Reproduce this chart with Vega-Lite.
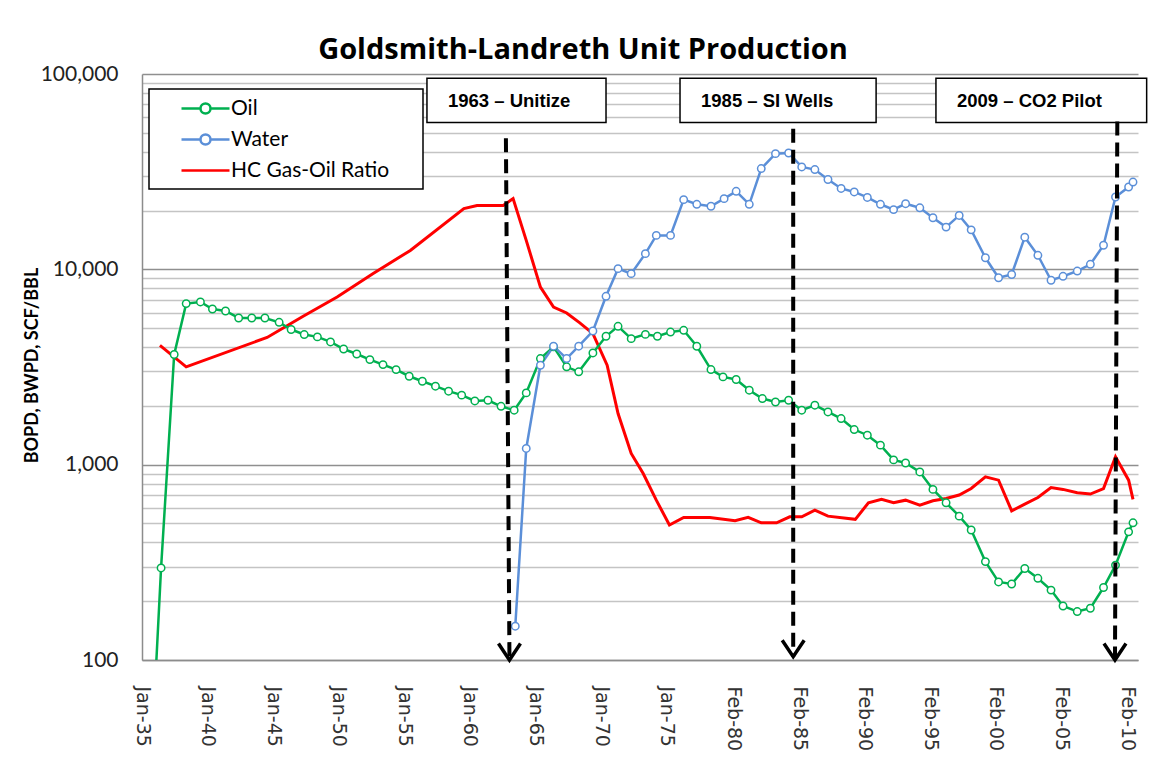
{
  "$schema": "https://vega.github.io/schema/vega-lite/v6.json",
  "width": 996,
  "height": 586,
  "autosize": {"type": "none"},
  "padding": {"left": 142, "top": 74, "right": 15, "bottom": 122},
  "background": "white",
  "title": {
    "text": "Goldsmith-Landreth Unit Production",
    "font": "Open Sans",
    "fontSize": 29,
    "fontWeight": "bold",
    "color": "black",
    "anchor": "middle",
    "dx": -57,
    "offset": -2
  },
  "datasets": {
    "prod": [
      {"series": "Oil", "date": "1935-06-15", "value": 14},
      {"series": "Oil", "date": "1936-06-15", "value": 296},
      {"series": "Oil", "date": "1937-06-15", "value": 3664},
      {"series": "Oil", "date": "1938-05-15", "value": 6676},
      {"series": "Oil", "date": "1939-06-15", "value": 6808},
      {"series": "Oil", "date": "1940-05-15", "value": 6267},
      {"series": "Oil", "date": "1941-05-15", "value": 6120},
      {"series": "Oil", "date": "1942-05-15", "value": 5636},
      {"series": "Oil", "date": "1943-05-15", "value": 5636},
      {"series": "Oil", "date": "1944-05-15", "value": 5636},
      {"series": "Oil", "date": "1945-06-15", "value": 5357},
      {"series": "Oil", "date": "1946-05-15", "value": 4920},
      {"series": "Oil", "date": "1947-05-15", "value": 4637},
      {"series": "Oil", "date": "1948-05-15", "value": 4510},
      {"series": "Oil", "date": "1949-05-15", "value": 4250},
      {"series": "Oil", "date": "1950-05-15", "value": 3910},
      {"series": "Oil", "date": "1951-05-15", "value": 3686},
      {"series": "Oil", "date": "1952-05-15", "value": 3450},
      {"series": "Oil", "date": "1953-05-15", "value": 3253},
      {"series": "Oil", "date": "1954-05-15", "value": 3067},
      {"series": "Oil", "date": "1955-05-15", "value": 2836},
      {"series": "Oil", "date": "1956-05-15", "value": 2674},
      {"series": "Oil", "date": "1957-05-15", "value": 2522},
      {"series": "Oil", "date": "1958-05-15", "value": 2378},
      {"series": "Oil", "date": "1959-05-15", "value": 2269},
      {"series": "Oil", "date": "1960-05-15", "value": 2120},
      {"series": "Oil", "date": "1961-05-15", "value": 2137},
      {"series": "Oil", "date": "1962-05-15", "value": 1990},
      {"series": "Oil", "date": "1963-05-15", "value": 1900},
      {"series": "Oil", "date": "1964-04-15", "value": 2330},
      {"series": "Oil", "date": "1965-05-15", "value": 3493},
      {"series": "Oil", "date": "1966-05-15", "value": 4010},
      {"series": "Oil", "date": "1967-05-15", "value": 3170},
      {"series": "Oil", "date": "1968-04-15", "value": 2988},
      {"series": "Oil", "date": "1969-05-15", "value": 3733},
      {"series": "Oil", "date": "1970-05-15", "value": 4543},
      {"series": "Oil", "date": "1971-04-15", "value": 5108},
      {"series": "Oil", "date": "1972-04-15", "value": 4418},
      {"series": "Oil", "date": "1973-05-15", "value": 4645},
      {"series": "Oil", "date": "1974-04-15", "value": 4543},
      {"series": "Oil", "date": "1975-04-15", "value": 4775},
      {"series": "Oil", "date": "1976-04-15", "value": 4873},
      {"series": "Oil", "date": "1977-04-15", "value": 4038},
      {"series": "Oil", "date": "1978-05-15", "value": 3068},
      {"series": "Oil", "date": "1979-04-15", "value": 2814},
      {"series": "Oil", "date": "1980-04-15", "value": 2729},
      {"series": "Oil", "date": "1981-04-15", "value": 2405},
      {"series": "Oil", "date": "1982-04-15", "value": 2180},
      {"series": "Oil", "date": "1983-04-15", "value": 2093},
      {"series": "Oil", "date": "1984-04-15", "value": 2137},
      {"series": "Oil", "date": "1985-04-15", "value": 1900},
      {"series": "Oil", "date": "1986-04-15", "value": 2016},
      {"series": "Oil", "date": "1987-04-15", "value": 1862},
      {"series": "Oil", "date": "1988-04-15", "value": 1722},
      {"series": "Oil", "date": "1989-04-15", "value": 1513},
      {"series": "Oil", "date": "1990-04-15", "value": 1415},
      {"series": "Oil", "date": "1991-04-15", "value": 1259},
      {"series": "Oil", "date": "1992-04-15", "value": 1058},
      {"series": "Oil", "date": "1993-03-15", "value": 1020},
      {"series": "Oil", "date": "1994-04-15", "value": 918},
      {"series": "Oil", "date": "1995-04-15", "value": 747},
      {"series": "Oil", "date": "1996-04-15", "value": 638},
      {"series": "Oil", "date": "1997-04-15", "value": 545},
      {"series": "Oil", "date": "1998-03-15", "value": 463},
      {"series": "Oil", "date": "1999-04-15", "value": 319},
      {"series": "Oil", "date": "2000-04-15", "value": 251},
      {"series": "Oil", "date": "2001-04-15", "value": 245},
      {"series": "Oil", "date": "2002-04-15", "value": 294},
      {"series": "Oil", "date": "2003-04-15", "value": 262},
      {"series": "Oil", "date": "2004-04-15", "value": 228},
      {"series": "Oil", "date": "2005-03-15", "value": 189},
      {"series": "Oil", "date": "2006-04-15", "value": 177},
      {"series": "Oil", "date": "2007-04-15", "value": 184},
      {"series": "Oil", "date": "2008-04-15", "value": 235},
      {"series": "Oil", "date": "2009-03-15", "value": 306},
      {"series": "Oil", "date": "2010-03-15", "value": 453},
      {"series": "Oil", "date": "2010-07-15", "value": 504},
      {"series": "Water", "date": "1963-06-15", "value": 149},
      {"series": "Water", "date": "1964-04-15", "value": 1211},
      {"series": "Water", "date": "1965-05-15", "value": 3228},
      {"series": "Water", "date": "1966-05-15", "value": 4040},
      {"series": "Water", "date": "1967-05-15", "value": 3493},
      {"series": "Water", "date": "1968-04-15", "value": 4040},
      {"series": "Water", "date": "1969-05-15", "value": 4833},
      {"series": "Water", "date": "1970-05-15", "value": 7278},
      {"series": "Water", "date": "1971-04-15", "value": 10080},
      {"series": "Water", "date": "1972-04-15", "value": 9502},
      {"series": "Water", "date": "1973-05-15", "value": 12030},
      {"series": "Water", "date": "1974-03-15", "value": 14920},
      {"series": "Water", "date": "1975-04-15", "value": 14920},
      {"series": "Water", "date": "1976-04-15", "value": 22740},
      {"series": "Water", "date": "1977-04-15", "value": 21530},
      {"series": "Water", "date": "1978-05-15", "value": 21030},
      {"series": "Water", "date": "1979-05-15", "value": 23010},
      {"series": "Water", "date": "1980-04-15", "value": 25080},
      {"series": "Water", "date": "1981-04-15", "value": 21530},
      {"series": "Water", "date": "1982-03-15", "value": 32800},
      {"series": "Water", "date": "1983-04-15", "value": 39110},
      {"series": "Water", "date": "1984-04-15", "value": 39400},
      {"series": "Water", "date": "1985-04-15", "value": 33440},
      {"series": "Water", "date": "1986-04-15", "value": 32420},
      {"series": "Water", "date": "1987-04-15", "value": 28840},
      {"series": "Water", "date": "1988-04-15", "value": 25940},
      {"series": "Water", "date": "1989-04-15", "value": 24900},
      {"series": "Water", "date": "1990-04-15", "value": 23330},
      {"series": "Water", "date": "1991-04-15", "value": 21530},
      {"series": "Water", "date": "1992-04-15", "value": 20220},
      {"series": "Water", "date": "1993-03-15", "value": 21680},
      {"series": "Water", "date": "1994-04-15", "value": 20660},
      {"series": "Water", "date": "1995-04-15", "value": 18370},
      {"series": "Water", "date": "1996-04-15", "value": 16450},
      {"series": "Water", "date": "1997-04-15", "value": 18880},
      {"series": "Water", "date": "1998-03-15", "value": 15930},
      {"series": "Water", "date": "1999-04-15", "value": 11460},
      {"series": "Water", "date": "2000-04-15", "value": 9055},
      {"series": "Water", "date": "2001-04-15", "value": 9410},
      {"series": "Water", "date": "2002-04-15", "value": 14610},
      {"series": "Water", "date": "2003-04-15", "value": 11800},
      {"series": "Water", "date": "2004-04-15", "value": 8790},
      {"series": "Water", "date": "2005-03-15", "value": 9210},
      {"series": "Water", "date": "2006-04-15", "value": 9800},
      {"series": "Water", "date": "2007-04-15", "value": 10610},
      {"series": "Water", "date": "2008-04-15", "value": 13280},
      {"series": "Water", "date": "2009-03-15", "value": 23460},
      {"series": "Water", "date": "2010-03-15", "value": 26390},
      {"series": "Water", "date": "2010-07-15", "value": 27970},
      {"series": "HC Gas-Oil Ratio", "date": "1936-05-15", "value": 4084},
      {"series": "HC Gas-Oil Ratio", "date": "1938-05-15", "value": 3170},
      {"series": "HC Gas-Oil Ratio", "date": "1944-07-15", "value": 4480},
      {"series": "HC Gas-Oil Ratio", "date": "1947-04-15", "value": 5754},
      {"series": "HC Gas-Oil Ratio", "date": "1949-11-15", "value": 7220},
      {"series": "HC Gas-Oil Ratio", "date": "1952-08-15", "value": 9510},
      {"series": "HC Gas-Oil Ratio", "date": "1955-06-15", "value": 12500},
      {"series": "HC Gas-Oil Ratio", "date": "1959-07-15", "value": 20460},
      {"series": "HC Gas-Oil Ratio", "date": "1960-07-15", "value": 21240},
      {"series": "HC Gas-Oil Ratio", "date": "1962-07-15", "value": 21240},
      {"series": "HC Gas-Oil Ratio", "date": "1963-04-15", "value": 23020},
      {"series": "HC Gas-Oil Ratio", "date": "1964-04-15", "value": 14070},
      {"series": "HC Gas-Oil Ratio", "date": "1965-05-15", "value": 8110},
      {"series": "HC Gas-Oil Ratio", "date": "1966-05-15", "value": 6410},
      {"series": "HC Gas-Oil Ratio", "date": "1967-05-15", "value": 5979},
      {"series": "HC Gas-Oil Ratio", "date": "1968-05-15", "value": 5320},
      {"series": "HC Gas-Oil Ratio", "date": "1969-05-15", "value": 4690},
      {"series": "HC Gas-Oil Ratio", "date": "1970-06-15", "value": 3228},
      {"series": "HC Gas-Oil Ratio", "date": "1971-04-15", "value": 1828},
      {"series": "HC Gas-Oil Ratio", "date": "1972-04-15", "value": 1141},
      {"series": "HC Gas-Oil Ratio", "date": "1973-03-15", "value": 901},
      {"series": "HC Gas-Oil Ratio", "date": "1974-03-15", "value": 658},
      {"series": "HC Gas-Oil Ratio", "date": "1975-03-15", "value": 491},
      {"series": "HC Gas-Oil Ratio", "date": "1976-04-15", "value": 537},
      {"series": "HC Gas-Oil Ratio", "date": "1978-04-15", "value": 537},
      {"series": "HC Gas-Oil Ratio", "date": "1980-03-15", "value": 516},
      {"series": "HC Gas-Oil Ratio", "date": "1981-03-15", "value": 537},
      {"series": "HC Gas-Oil Ratio", "date": "1982-03-15", "value": 504},
      {"series": "HC Gas-Oil Ratio", "date": "1983-05-15", "value": 504},
      {"series": "HC Gas-Oil Ratio", "date": "1984-05-15", "value": 541},
      {"series": "HC Gas-Oil Ratio", "date": "1985-04-15", "value": 541},
      {"series": "HC Gas-Oil Ratio", "date": "1986-04-15", "value": 585},
      {"series": "HC Gas-Oil Ratio", "date": "1987-04-15", "value": 545},
      {"series": "HC Gas-Oil Ratio", "date": "1989-05-15", "value": 525},
      {"series": "HC Gas-Oil Ratio", "date": "1990-05-15", "value": 638},
      {"series": "HC Gas-Oil Ratio", "date": "1991-05-15", "value": 664},
      {"series": "HC Gas-Oil Ratio", "date": "1992-04-15", "value": 638},
      {"series": "HC Gas-Oil Ratio", "date": "1993-03-15", "value": 658},
      {"series": "HC Gas-Oil Ratio", "date": "1994-04-15", "value": 621},
      {"series": "HC Gas-Oil Ratio", "date": "1995-04-15", "value": 653},
      {"series": "HC Gas-Oil Ratio", "date": "1996-04-15", "value": 671},
      {"series": "HC Gas-Oil Ratio", "date": "1997-04-15", "value": 699},
      {"series": "HC Gas-Oil Ratio", "date": "1998-03-15", "value": 755},
      {"series": "HC Gas-Oil Ratio", "date": "1999-04-15", "value": 866},
      {"series": "HC Gas-Oil Ratio", "date": "2000-04-15", "value": 833},
      {"series": "HC Gas-Oil Ratio", "date": "2001-04-15", "value": 580},
      {"series": "HC Gas-Oil Ratio", "date": "2002-04-15", "value": 628},
      {"series": "HC Gas-Oil Ratio", "date": "2003-04-15", "value": 679},
      {"series": "HC Gas-Oil Ratio", "date": "2004-04-15", "value": 764},
      {"series": "HC Gas-Oil Ratio", "date": "2005-03-15", "value": 747},
      {"series": "HC Gas-Oil Ratio", "date": "2006-04-15", "value": 718},
      {"series": "HC Gas-Oil Ratio", "date": "2007-04-15", "value": 707},
      {"series": "HC Gas-Oil Ratio", "date": "2008-04-15", "value": 755},
      {"series": "HC Gas-Oil Ratio", "date": "2009-03-15", "value": 1097},
      {"series": "HC Gas-Oil Ratio", "date": "2010-03-15", "value": 833},
      {"series": "HC Gas-Oil Ratio", "date": "2010-07-15", "value": 664}
    ],
    "notes": [
      {"label": "1963 \u2013 Unitize", "boxStart": "1956-09-20", "boxEnd": "1970-05-15", "arrowTop": "1962-09-27", "arrowTip": "1963-01-04", "topValue": 46950, "tipValue": 100},
      {"label": "1985 \u2013 SI Wells", "boxStart": "1976-01-04", "boxEnd": "1990-12-15", "arrowTop": "1984-08-20", "arrowTip": "1984-08-20", "topValue": 52500, "tipValue": 104},
      {"label": "2009 \u2013 CO2 Pilot", "boxStart": "1995-07-08", "boxEnd": "2011-07-30", "arrowTop": "2009-05-04", "arrowTip": "2009-02-28", "topValue": 57150, "tipValue": 100}
    ]
  },
  "layer": [
    {
      "data": {"name": "prod"},
      "transform": [{"filter": "datum.series === 'HC Gas-Oil Ratio'"}],
      "mark": {"type": "line", "strokeWidth": 3, "clip": true},
      "encoding": {
        "x": {
          "field": "date",
          "type": "temporal",
          "scale": {
            "type": "utc",
            "domain": [
              {"year": 1935, "month": 1, "date": 1, "utc": true},
              {"year": 2010, "month": 12, "date": 1, "utc": true}
            ],
            "nice": false
          },
          "axis": {
            "title": null,
            "values": [
              {"year": 1935, "month": 1, "date": 1, "utc": true},
              {"year": 1940, "month": 1, "date": 1, "utc": true},
              {"year": 1945, "month": 1, "date": 1, "utc": true},
              {"year": 1950, "month": 1, "date": 1, "utc": true},
              {"year": 1955, "month": 1, "date": 1, "utc": true},
              {"year": 1960, "month": 1, "date": 1, "utc": true},
              {"year": 1965, "month": 1, "date": 1, "utc": true},
              {"year": 1970, "month": 1, "date": 1, "utc": true},
              {"year": 1975, "month": 1, "date": 1, "utc": true},
              {"year": 1980, "month": 2, "date": 1, "utc": true},
              {"year": 1985, "month": 2, "date": 1, "utc": true},
              {"year": 1990, "month": 2, "date": 1, "utc": true},
              {"year": 1995, "month": 2, "date": 1, "utc": true},
              {"year": 2000, "month": 2, "date": 1, "utc": true},
              {"year": 2005, "month": 2, "date": 1, "utc": true},
              {"year": 2010, "month": 2, "date": 1, "utc": true}
            ],
            "format": "%b-%y",
            "labelAngle": 90,
            "labelFont": "DejaVu Sans",
            "labelFontSize": 19,
            "labelColor": "#333333",
            "labelPadding": 26,
            "labelFlush": false,
            "labelOverlap": false,
            "ticks": false,
            "tickSize": 0,
            "grid": false,
            "domainColor": "#8c8c8c",
            "domainWidth": 1.5
          }
        },
        "y": {
          "field": "value",
          "type": "quantitative",
          "scale": {"type": "log", "domain": [100, 100000], "nice": false},
          "axis": {
            "title": "BOPD, BWPD, SCF/BBL",
            "titleFont": "Lato",
            "titleFontSize": 18,
            "titleFontWeight": "bold",
            "titleColor": "black",
            "titleAngle": 270,
            "titleAlign": "center",
            "titleBaseline": "middle",
            "titleX": -110,
            "titleY": 291,
            "values": [100, 200, 300, 400, 500, 600, 700, 800, 900, 1000, 2000, 3000, 4000, 5000, 6000, 7000, 8000, 9000, 10000, 20000, 30000, 40000, 50000, 60000, 70000, 80000, 90000, 100000],
            "labelExpr": "indexof([100, 1000, 10000, 100000], datum.value) >= 0 ? format(datum.value, ',') : ''",
            "labelFont": "Lato",
            "labelFontSize": 21,
            "labelColor": "#222222",
            "labelPadding": 24,
            "labelOverlap": false,
            "labelFlush": false,
            "ticks": false,
            "tickSize": 0,
            "grid": true,
            "gridColor": {"condition": {"test": "indexof([100, 1000, 10000, 100000], datum.value) >= 0", "value": "#8f8f8f"}, "value": "#c4c4c4"},
            "gridWidth": 1.3,
            "domainColor": "#8c8c8c",
            "domainWidth": 1.5
          }
        },
        "color": {
          "field": "series",
          "type": "nominal",
          "scale": {"domain": ["Oil", "Water", "HC Gas-Oil Ratio"], "range": ["#00b050", "#5b8fd8", "#ff0000"]},
          "legend": {
            "orient": "none",
            "legendX": 7,
            "legendY": 15,
            "title": "\u00a0",
            "titleOrient": "right",
            "titlePadding": 26,
            "titleFontSize": 4,
            "padding": 8,
            "strokeColor": "black",
            "fillColor": "white",
            "symbolSize": 400,
            "symbolStrokeWidth": 2.5,
            "symbolFillColor": "white",
            "labelFont": "Lato",
            "labelFontSize": 21,
            "labelColor": "black",
            "labelOffset": 51,
            "labelLimit": 500,
            "rowPadding": 9,
            "encode": {
              "legend": {
                "update": {
                  "stroke": {"value": "black"},
                  "strokeWidth": {"value": 1.5},
                  "fill": {"value": "white"}
                }
              },
              "symbols": {
                "update": {
                  "shape": {"signal": "datum.value === 'HC Gas-Oil Ratio' ? 'M1.3,0L6.1,0' : 'M1.3,0L3.2,0M4.2,0L6.1,0M3.2,0A0.5,0.5 0 1,0 4.2,0A0.5,0.5 0 1,0 3.2,0'"},
                  "fill": {"value": "white"},
                  "strokeWidth": {"value": 2.5}
                }
              }
            }
          }
        }
      }
    },
    {
      "data": {"name": "prod"},
      "transform": [{"filter": "datum.series !== 'HC Gas-Oil Ratio'"}],
      "mark": {"type": "line", "strokeWidth": 2.5, "clip": true},
      "encoding": {
        "x": {"field": "date", "type": "temporal"},
        "y": {"field": "value", "type": "quantitative"},
        "color": {"field": "series", "type": "nominal"}
      }
    },
    {
      "data": {"name": "prod"},
      "transform": [{"filter": "datum.series !== 'HC Gas-Oil Ratio' && datum.value >= 100"}],
      "mark": {"type": "point", "filled": false, "fill": "white", "fillOpacity": 1, "opacity": 1, "size": 55, "strokeWidth": 1.5, "shape": "circle"},
      "encoding": {
        "x": {"field": "date", "type": "temporal"},
        "y": {"field": "value", "type": "quantitative"},
        "color": {"field": "series", "type": "nominal"}
      }
    },
    {
      "data": {"name": "notes"},
      "mark": {"type": "rect", "fill": "white", "stroke": "black", "strokeWidth": 1.5},
      "encoding": {
        "x": {"field": "boxStart", "type": "temporal"},
        "x2": {"field": "boxEnd"},
        "y": {"datum": 95000, "type": "quantitative"},
        "y2": {"datum": 56500}
      }
    },
    {
      "data": {"name": "notes"},
      "mark": {"type": "text", "align": "left", "baseline": "middle", "dx": 21, "font": "Liberation Sans", "fontWeight": "bold", "fontSize": 18.5, "color": "black"},
      "encoding": {
        "x": {"field": "boxStart", "type": "temporal"},
        "y": {"datum": 72500, "type": "quantitative"},
        "text": {"field": "label"}
      }
    },
    {
      "data": {"name": "notes"},
      "mark": {"type": "rule", "color": "black", "strokeWidth": 4, "strokeDash": [14, 7]},
      "encoding": {
        "x": {"field": "arrowTop", "type": "temporal"},
        "x2": {"field": "arrowTip"},
        "y": {"field": "topValue", "type": "quantitative"},
        "y2": {"field": "tipValue"}
      }
    },
    {
      "data": {"name": "notes"},
      "mark": {"type": "point", "filled": false, "stroke": "black", "strokeWidth": 3.5, "opacity": 1, "size": 484, "shape": "M-1,-1.5L0,0L1,-1.5", "strokeJoin": "miter"},
      "encoding": {
        "x": {"field": "arrowTip", "type": "temporal"},
        "y": {"field": "tipValue", "type": "quantitative"}
      }
    }
  ],
  "config": {
    "font": "Lato",
    "view": {"stroke": null}
  }
}
